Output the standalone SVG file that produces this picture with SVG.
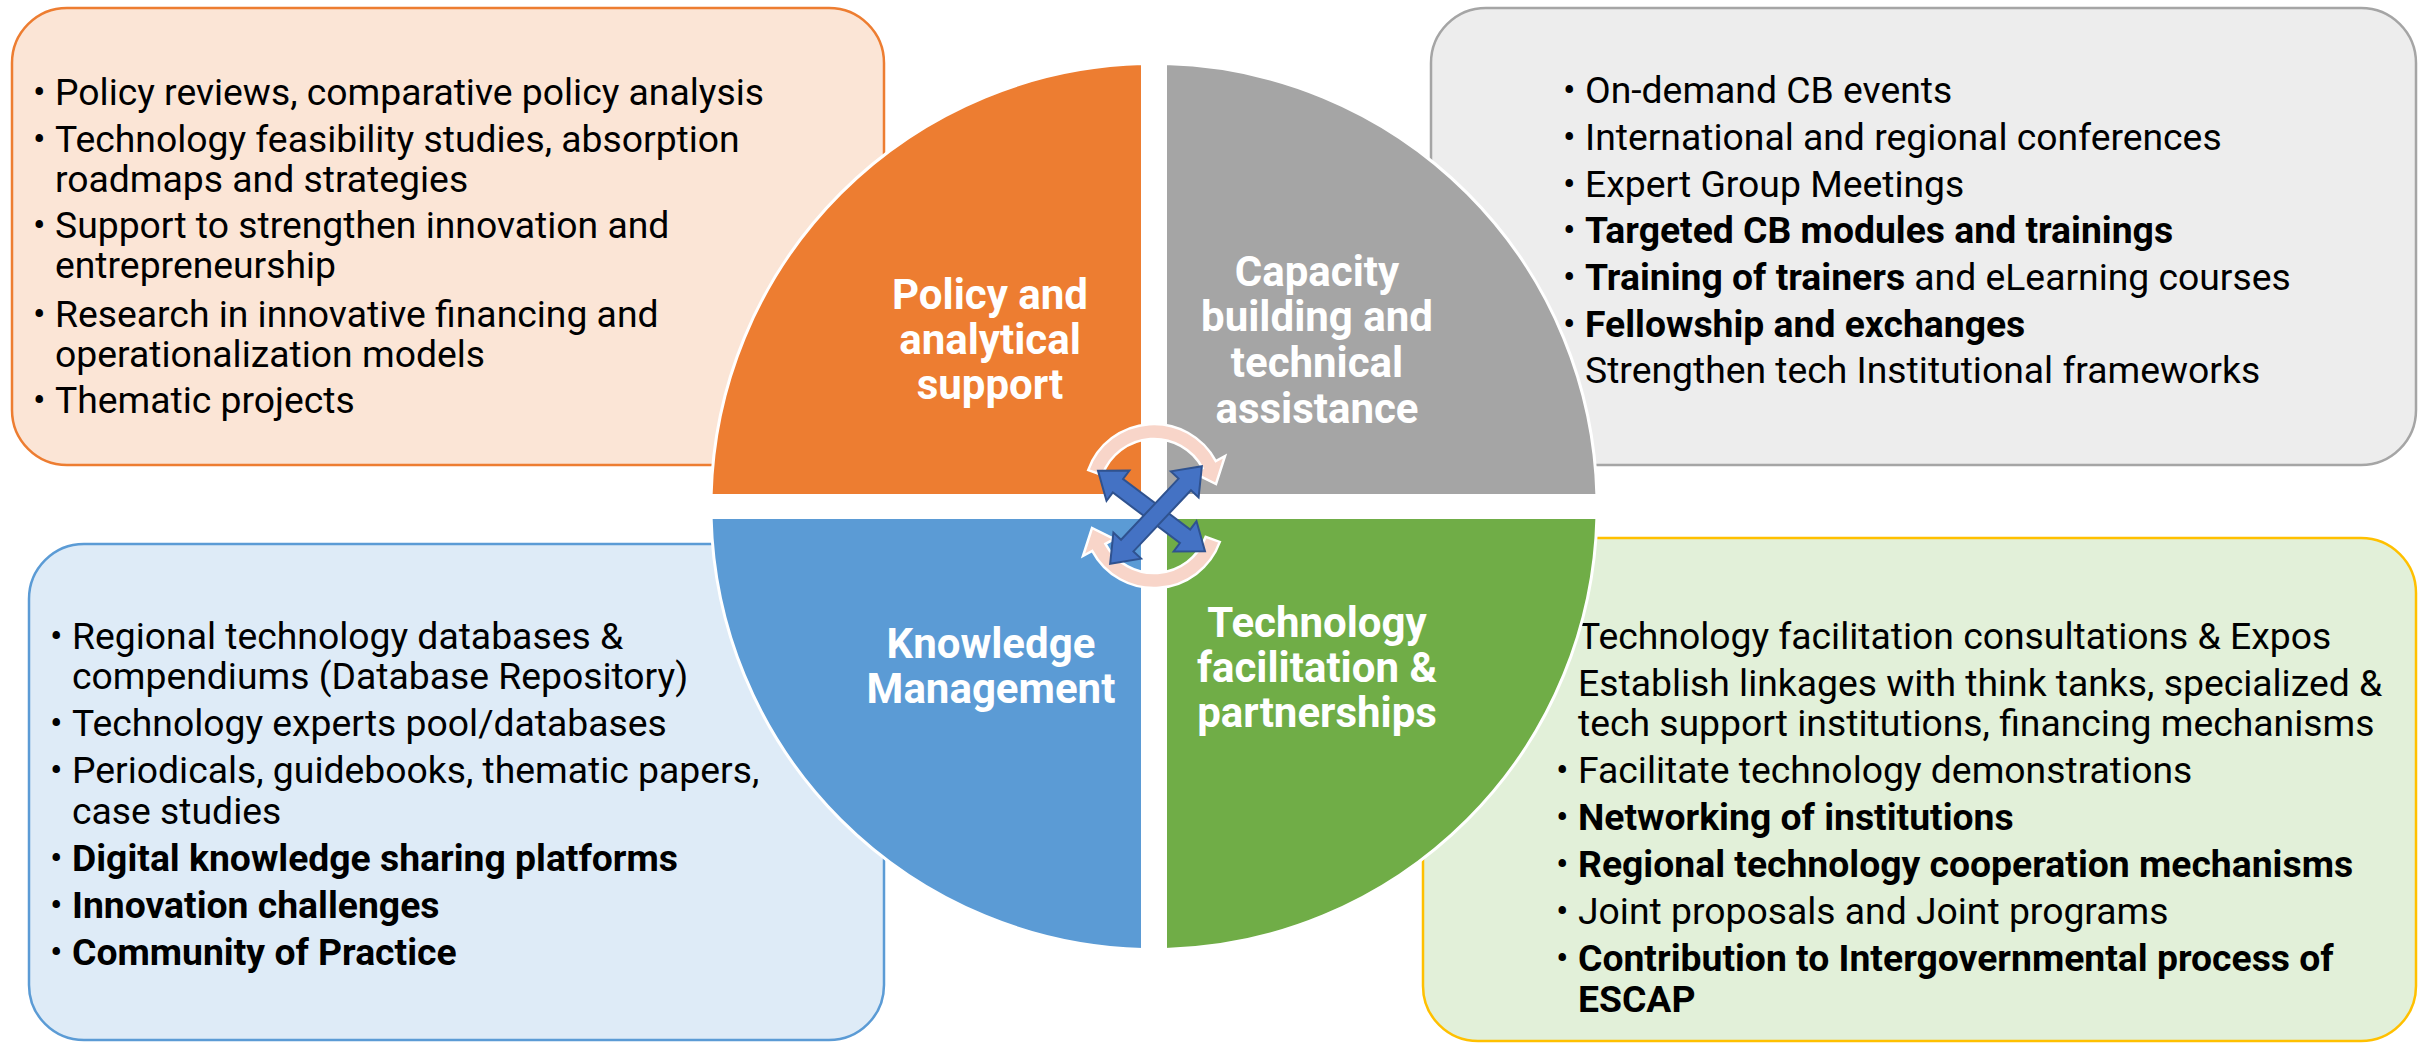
<svg xmlns="http://www.w3.org/2000/svg" width="2420" height="1046" viewBox="0 0 2420 1046">
<defs>
<style>
.t{font-family:Roboto,"Liberation Sans",sans-serif;font-size:37.3px;fill:#000}
.b{font-weight:bold}
.lbl{font-family:Roboto,"Liberation Sans",sans-serif;font-size:42px;font-weight:bold;fill:#fff;text-anchor:middle}
.q{stroke:#fff;stroke-width:3}
.ca{fill:#F8D5C9;stroke:#fff;stroke-width:2.5}
.ba{fill:#4472C4;stroke:#2F528F;stroke-width:2;stroke-linejoin:miter}
</style>
<path id="circArrow" d="M1088.2,470.1 A70,70 0 0 1 1215.8,461.1 L1225,456 L1216,484 L1193.7,472.9 L1202.6,468.2 A55,55 0 0 0 1102.3,475.2 Z"/>
<path id="dblArrow" d="M-67,0 L-42,-19 L-42,-8.5 L42,-8.5 L42,-19 L67,0 L42,19 L42,8.5 L-42,8.5 L-42,19 Z"/>
</defs>
<rect width="2420" height="1046" fill="#fff"/>

<g id="box-policy">
<rect x="12" y="8" width="872" height="457" rx="55" fill="#FBE5D6" stroke="#ED7D31" stroke-width="2.5"/>
<text class="t" x="33" y="105">•</text><text class="t" x="55" y="105">Policy reviews, comparative policy analysis</text>
<text class="t" x="33" y="152">•</text><text class="t" x="55" y="152">Technology feasibility studies, absorption</text>
<text class="t" x="55" y="192">roadmaps and strategies</text>
<text class="t" x="33" y="238">•</text><text class="t" x="55" y="238">Support to strengthen innovation and</text>
<text class="t" x="55" y="278">entrepreneurship</text>
<text class="t" x="33" y="327">•</text><text class="t" x="55" y="327">Research in innovative financing and</text>
<text class="t" x="55" y="367">operationalization models</text>
<text class="t" x="33" y="413">•</text><text class="t" x="55" y="413">Thematic projects</text>
</g>

<g id="box-capacity">
<rect x="1431" y="8" width="985" height="457" rx="55" fill="#EDEDED" stroke="#A5A5A5" stroke-width="2.5"/>
<text class="t" x="1563" y="103">•</text><text class="t" x="1585" y="103">On-demand CB events</text>
<text class="t" x="1563" y="150">•</text><text class="t" x="1585" y="150">International and regional conferences</text>
<text class="t" x="1563" y="197">•</text><text class="t" x="1585" y="197">Expert Group Meetings</text>
<text class="t" x="1563" y="243">•</text><text class="t b" x="1585" y="243">Targeted CB modules and trainings</text>
<text class="t" x="1563" y="290">•</text><text class="t" x="1585" y="290"><tspan class="b">Training of trainers</tspan> and eLearning courses</text>
<text class="t" x="1563" y="337">•</text><text class="t b" x="1585" y="337">Fellowship and exchanges</text>
<text class="t" x="1585" y="383">Strengthen tech Institutional frameworks</text>
</g>

<g id="box-knowledge">
<rect x="29" y="544" width="855" height="496" rx="55" fill="#DEEBF7" stroke="#5B9BD5" stroke-width="2.5"/>
<text class="t" x="50" y="649">•</text><text class="t" x="72" y="649">Regional technology databases &amp;</text>
<text class="t" x="72" y="689">compendiums (Database Repository)</text>
<text class="t" x="50" y="736">•</text><text class="t" x="72" y="736">Technology experts pool/databases</text>
<text class="t" x="50" y="783">•</text><text class="t" x="72" y="783">Periodicals, guidebooks, thematic papers,</text>
<text class="t" x="72" y="824">case studies</text>
<text class="t" x="50" y="871">•</text><text class="t b" x="72" y="871">Digital knowledge sharing platforms</text>
<text class="t" x="50" y="918">•</text><text class="t b" x="72" y="918">Innovation challenges</text>
<text class="t" x="50" y="965">•</text><text class="t b" x="72" y="965">Community of Practice</text>
</g>

<g id="box-tech">
<rect x="1423" y="538" width="993" height="503" rx="55" fill="#E2F0D9" stroke="#FFC000" stroke-width="2.5"/>
<text class="t" x="1578" y="649">Technology facilitation consultations &amp; Expos</text>
<text class="t" x="1578" y="696">Establish linkages with think tanks, specialized &amp;</text>
<text class="t" x="1578" y="736">tech support institutions, financing mechanisms</text>
<text class="t" x="1556" y="783">•</text><text class="t" x="1578" y="783">Facilitate technology demonstrations</text>
<text class="t" x="1556" y="830">•</text><text class="t b" x="1578" y="830">Networking of institutions</text>
<text class="t" x="1556" y="877">•</text><text class="t b" x="1578" y="877">Regional technology cooperation mechanisms</text>
<text class="t" x="1556" y="924">•</text><text class="t" x="1578" y="924">Joint proposals and Joint programs</text>
<text class="t" x="1556" y="971">•</text><text class="t b" x="1578" y="971">Contribution to Intergovernmental process of</text>
<text class="t b" x="1578" y="1012">ESCAP</text>
</g>

<g id="quadrant-policy">
<path class="q" fill="#ED7D31" d="M1142.5,495.5 L711.1,495.5 A443,443 0 0 1 1142.5,63.6 Z"/>
<text class="lbl" x="990" y="309">Policy and</text>
<text class="lbl" x="990" y="354">analytical</text>
<text class="lbl" x="990" y="399">support</text>
</g>
<g id="quadrant-capacity">
<path class="q" fill="#A5A5A5" d="M1165.5,495.5 L1165.5,63.6 A443,443 0 0 1 1596.9,495.5 Z"/>
<text class="lbl" x="1317" y="286">Capacity</text>
<text class="lbl" x="1317" y="331">building and</text>
<text class="lbl" x="1317" y="377">technical</text>
<text class="lbl" x="1317" y="423">assistance</text>
</g>
<g id="quadrant-tech">
<path class="q" fill="#70AD47" d="M1165.5,517.5 L1596.9,517.5 A443,443 0 0 1 1165.5,949.4 Z"/>
<text class="lbl" x="1317" y="637">Technology</text>
<text class="lbl" x="1317" y="682">facilitation &amp;</text>
<text class="lbl" x="1317" y="727">partnerships</text>
</g>
<g id="quadrant-knowledge">
<path class="q" fill="#5B9BD5" d="M1142.5,517.5 L1142.5,949.4 A443,443 0 0 1 711.1,517.5 Z"/>
<text class="lbl" x="991" y="658">Knowledge</text>
<text class="lbl" x="991" y="703">Management</text>
</g>

<g id="connectors">
<use href="#circArrow" class="ca"/>
<use href="#circArrow" class="ca" transform="rotate(180 1154 506)"/>
<use href="#dblArrow" class="ba" transform="translate(1151.5 511) rotate(37)"/>
<use href="#dblArrow" class="ba" transform="translate(1156 515) rotate(-46.8)"/>
</g>
</svg>
